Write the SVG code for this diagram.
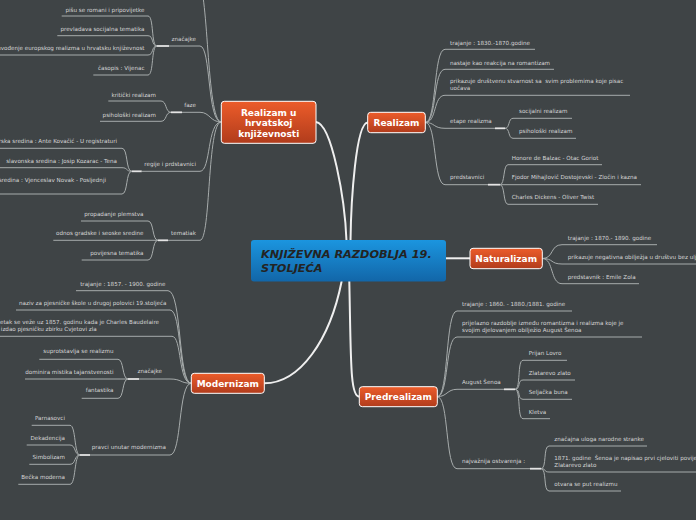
<svg xmlns="http://www.w3.org/2000/svg" width="696" height="520" viewBox="0 0 696 520">
<defs>
<linearGradient id="og" x1="0" y1="0" x2="0" y2="1"><stop offset="0" stop-color="#ec5c2a"/><stop offset="1" stop-color="#b13c1c"/></linearGradient>
<linearGradient id="bg" x1="0" y1="0" x2="0" y2="1"><stop offset="0" stop-color="#1b95df"/><stop offset="1" stop-color="#1266a8"/></linearGradient>
<style>
.t{font-family:"DejaVu Sans",Verdana,sans-serif;font-size:5.6px;fill:#d6d6d6;white-space:pre}
.e{text-anchor:end}
.ln{fill:none;stroke:#a7acac;stroke-width:1}
.tk{fill:none;stroke:#e4e4e4;stroke-width:1.8}
.mc{fill:none;stroke:#efefef;stroke-width:2}
.nr{fill:url(#og);stroke:#ffffff;stroke-width:1}
.nt{font-family:"DejaVu Sans",Verdana,sans-serif;font-size:9px;font-weight:bold;fill:#ffffff;text-anchor:middle}
.ct{font-family:"DejaVu Sans",Verdana,sans-serif;font-size:11.3px;font-weight:bold;font-style:italic;fill:#232323}
</style>
</defs>
<rect width="696" height="520" fill="#3f4446"/>

<g id="connectors">
<path class="mc" d="M316,122 C332,124 345,200 346.5,241"/>
<path class="mc" d="M367.7,122.5 C356,123 351,200 350.5,241"/>
<path class="mc" d="M446,258.3 H470"/>
<path class="mc" d="M341.7,281 C330,340 300,383.3 264.3,383.3"/>
<path class="mc" d="M349.3,281 C351,360 350,396.7 359.3,396.7"/>

<path class="ln" d="M425.3,122.5 C437,122.5 433,49.3 445,49.3 H535"/>
<path class="ln" d="M425.3,122.5 C437,122.5 433,69.3 445,69.3 H554"/>
<path class="ln" d="M425.3,122.5 C437,122.5 433,95.3 445,95.3 H630"/>
<path class="ln" d="M425.3,122.5 C435,122.5 433,128.3 445,128.3 H495"/>
<path class="tk" d="M495,128.3 H505"/>
<path class="ln" d="M425.3,122.5 C437,122.5 433,184.7 445,184.7 H488"/>
<path class="tk" d="M488,184.7 H500"/>
<path class="ln" d="M505,128.3 C510,128.3 508,118.3 513,118.3 H572"/>
<path class="ln" d="M505,128.3 C510,128.3 508,138.3 513,138.3 H576"/>
<path class="ln" d="M500,184.7 C505,184.7 503,164.7 508,164.7 H602"/>
<path class="ln" d="M500,184.7 H641"/>
<path class="ln" d="M500,184.7 C505,184.7 503,204.3 508,204.3 H598"/>

<path class="ln" d="M542.3,258.5 C554,258.5 550,244.7 562,244.7 H657"/>
<path class="ln" d="M542.3,258.5 C554,258.5 550,264 562,264 H700"/>
<path class="ln" d="M542.3,258.5 C554,258.5 550,283.7 562,283.7 H639"/>

<path class="ln" d="M437.3,396.7 C449,396.7 445,311 457,311 H572"/>
<path class="ln" d="M437.3,396.7 C449,396.7 445,337 457,337 H642"/>
<path class="ln" d="M437.3,396.7 C447,396.7 447,389.3 457,389.3 H504"/>
<path class="tk" d="M504,389.3 H515"/>
<path class="ln" d="M437.3,396.7 C449,396.7 445,468.7 457,468.7 H530"/>
<path class="tk" d="M530,468.7 H541"/>
<path class="ln" d="M515,389.3 C521,389.3 517,360.3 523,360.3 H567"/>
<path class="ln" d="M515,389.3 C521,389.3 517,380 523,380 H575"/>
<path class="ln" d="M515,389.3 C521,389.3 517,399.3 523,399.3 H572"/>
<path class="ln" d="M515,389.3 C521,389.3 517,418.7 523,418.7 H550"/>
<path class="ln" d="M541,468.7 C547,468.7 543,446 549,446 H647"/>
<path class="ln" d="M541,468.7 C547,468.7 543,472 549,472 H700"/>
<path class="ln" d="M541,468.7 C547,468.7 543,491 549,491 H621"/>

<path class="ln" d="M221.3,122 C206,122 209,-20 197,-20"/>
<path class="ln" d="M221.3,122 C207,122 211,46 200,46 H169"/>
<path class="tk" d="M169,46 H157"/>
<path class="ln" d="M221.3,122 C210,122 210,112.3 200,112.3 H182"/>
<path class="tk" d="M182,112.3 H171"/>
<path class="ln" d="M221.3,122 C207,122 211,171.3 200,171.3 H141.7"/>
<path class="tk" d="M141.7,171.3 H131.7"/>
<path class="ln" d="M221.3,122 C207,122 211,240.3 200,240.3 H168"/>
<path class="tk" d="M168,240.3 H158"/>
<path class="ln" d="M157,46 C151,46 154,16 148,16 H61.7"/>
<path class="ln" d="M157,46 C151,46 154,35.7 148,35.7 H57.3"/>
<path class="ln" d="M157,46 C151,46 154,55 148,55 H-5"/>
<path class="ln" d="M157,46 C151,46 154,75 148,75 H93.3"/>
<path class="ln" d="M171,112.3 C165,112.3 167,101 161,101 H108.3"/>
<path class="ln" d="M171,112.3 C165,112.3 167,121.3 161,121.3 H100"/>
<path class="ln" d="M131.7,171.3 C125.7,171.3 128,148.3 122,148.3 H-5"/>
<path class="ln" d="M131.7,171.3 C125.7,171.3 128,167.7 122,167.7 H-5"/>
<path class="ln" d="M131.7,171.3 C125.7,171.3 128,194 122,194 H-5"/>
<path class="ln" d="M158,240.3 C152,240.3 154,221 148,221 H81"/>
<path class="ln" d="M158,240.3 H53.3"/>
<path class="ln" d="M158,240.3 C152,240.3 154,260 148,260 H81.7"/>

<path class="ln" d="M191.3,383.3 C178,383.3 182,290.7 168,290.7 H76"/>
<path class="ln" d="M191.3,383.3 C178,383.3 182,310 170,310 H16"/>
<path class="ln" d="M191.3,383.3 C178,383.3 182,336.3 172,336.3 H-5"/>
<path class="ln" d="M191.3,383.3 C180,383.3 182,379 170,379 H139"/>
<path class="tk" d="M139,379 H128"/>
<path class="ln" d="M191.3,383.3 C178,383.3 182,455 170,455 H90"/>
<path class="tk" d="M90,455 H80"/>
<path class="ln" d="M128,379 C122,379 124,359.3 118,359.3 H39.3"/>
<path class="ln" d="M128,379 H25"/>
<path class="ln" d="M128,379 C122,379 124,398.3 118,398.3 H81.7"/>
<path class="ln" d="M80,455 C74,455 76,425.3 70,425.3 H31.7"/>
<path class="ln" d="M80,455 C74,455 76,445 70,445 H26.7"/>
<path class="ln" d="M80,455 C74,455 76,464.3 70,464.3 H29.3"/>
<path class="ln" d="M80,455 C74,455 76,484.3 70,484.3 H18.3"/>
</g>

<g id="central">
<rect x="251" y="240" width="195" height="41.5" rx="3" fill="url(#bg)"/>
<text class="ct" x="261" y="257.7">KNJIŽEVNA RAZDOBLJA 19.</text>
<text class="ct" x="261" y="271.7">STOLJEĆA</text>
</g>

<g id="realizam-hr">
<rect class="nr" x="221.3" y="101.3" width="94.7" height="42" rx="3"/>
<text class="nt" x="268.7" y="115.5">Realizam u</text>
<text class="nt" x="268.7" y="126.2">hrvatskoj</text>
<text class="nt" x="268.7" y="137">književnosti</text>
<text class="t e" x="196" y="41.3">značajke</text>
<text class="t e" x="144.5" y="12.3">pišu se romani i pripovijetke</text>
<text class="t e" x="144.5" y="31.3">prevladava socijalna tematika</text>
<text class="t e" x="144.5" y="50.3">uvođenje europskog realizma u hrvatsku književnost</text>
<text class="t e" x="144.5" y="70.3">časopis : Vijenac</text>
<text class="t e" x="196" y="107.3">faze</text>
<text class="t e" x="156" y="97.3">kritički realizam</text>
<text class="t e" x="156" y="116.7">psihološki realizam</text>
<text class="t e" x="196" y="166.3">regije i prdstavnici</text>
<text class="t e" x="117" y="142.7">zagorska sredina : Ante Kovačić - U registraturi</text>
<text class="t e" x="117" y="162.7">slavonska sredina : Josip Kozarac - Tena</text>
<text class="t e" x="106" y="181.7">primorska sredina : Vjenceslav Novak - Posljednji</text>
<text class="t e" x="196" y="235">tematiak</text>
<text class="t e" x="143.5" y="216">propadanje plemstva</text>
<text class="t e" x="143.5" y="235">odnos gradske i seoske sredine</text>
<text class="t e" x="143.5" y="255">povijesna tematika</text>
</g>

<g id="realizam">
<rect class="nr" x="367.7" y="112.3" width="57.6" height="20.4" rx="3"/>
<text class="nt" x="396.5" y="125.8">Realizam</text>
<text class="t" x="450" y="44.7">trajanje : 1830.-1870.godine</text>
<text class="t" x="450" y="64.7">nastaje kao reakcija na romantizam</text>
<text class="t" x="450" y="83.3">prikazuje društvenu stvarnost sa  svim problemima koje pisac</text>
<text class="t" x="450" y="90.3">uočava</text>
<text class="t" x="450" y="122.7">etape realizma</text>
<text class="t" x="519" y="113.3">socijalni realizam</text>
<text class="t" x="519" y="133.3">psihološki realizam</text>
<text class="t" x="450" y="179.3">predstavnici</text>
<text class="t" x="511.7" y="160.3">Honore de Balzac - Otac Goriot</text>
<text class="t" x="511.7" y="179.3">Fjodor Mihajlovič Dostojevski - Zločin i kazna</text>
<text class="t" x="511.7" y="199.3">Charles Dickens - Oliver Twist</text>
</g>

<g id="naturalizam">
<rect class="nr" x="470" y="248.3" width="72.3" height="20.4" rx="3"/>
<text class="nt" x="506.2" y="261.8">Naturalizam</text>
<text class="t" x="567.7" y="240">trajanje : 1870.- 1890. godine</text>
<text class="t" x="567.7" y="259">prikazuje negativna obilježja u društvu bez uljepšavanja</text>
<text class="t" x="567.7" y="279.3">predstavnik : Emile Zola</text>
</g>

<g id="modernizam">
<rect class="nr" x="191.3" y="373.3" width="73" height="20" rx="3"/>
<text class="nt" x="227.8" y="386.6">Modernizam</text>
<text class="t e" x="165.5" y="286">trajanje : 1857. - 1900. godine</text>
<text class="t e" x="166.5" y="304.7">naziv za pjesničke škole u drugoj polovici 19.stoljeća</text>
<text class="t e" x="159" y="324.3">početak se veže uz 1857. godinu kada je Charles Baudelaire</text>
<text class="t e" x="96.7" y="331">izdao pjesničku zbirku Cvjetovi zla</text>
<text class="t e" x="162" y="373.3">značajke</text>
<text class="t e" x="113.5" y="353.3">suprotstavlja se realizmu</text>
<text class="t e" x="113.5" y="373.7">dominira mistika tajanstvenosti</text>
<text class="t e" x="113.5" y="392.3">fantastika</text>
<text class="t e" x="166" y="449.3">pravci unutar modernizma</text>
<text class="t e" x="65" y="420">Parnasovci</text>
<text class="t e" x="65" y="439.7">Dekadencija</text>
<text class="t e" x="65" y="458.7">Simbolizam</text>
<text class="t e" x="65" y="478.7">Bečka moderna</text>
</g>

<g id="predrealizam">
<rect class="nr" x="359.3" y="386.7" width="78" height="20" rx="3"/>
<text class="nt" x="398.3" y="400">Predrealizam</text>
<text class="t" x="462" y="306">trajanje : 1860. - 1880./1881. godine</text>
<text class="t" x="462" y="324.7">prijelazno razdoblje između romantizma i realizma koje je</text>
<text class="t" x="462" y="332">svojim djelovanjem obilježio August Šenoa</text>
<text class="t" x="462" y="384">August Šenoa</text>
<text class="t" x="528.7" y="355">Prijan Lovro</text>
<text class="t" x="528.7" y="375">Zlatarevo zlato</text>
<text class="t" x="528.7" y="394">Seljačka buna</text>
<text class="t" x="528.7" y="413.7">Kletva</text>
<text class="t" x="462" y="463.3">najvažnija ostvarenja :</text>
<text class="t" x="554.3" y="441">značajna uloga narodne stranke</text>
<text class="t" x="554.3" y="459.7">1871. godine  Šenoa je napisao prvi cjeloviti povijesni roman</text>
<text class="t" x="554.3" y="467">Zlatarevo zlato</text>
<text class="t" x="554.3" y="485.7">otvara se put realizmu</text>
</g>
</svg>
